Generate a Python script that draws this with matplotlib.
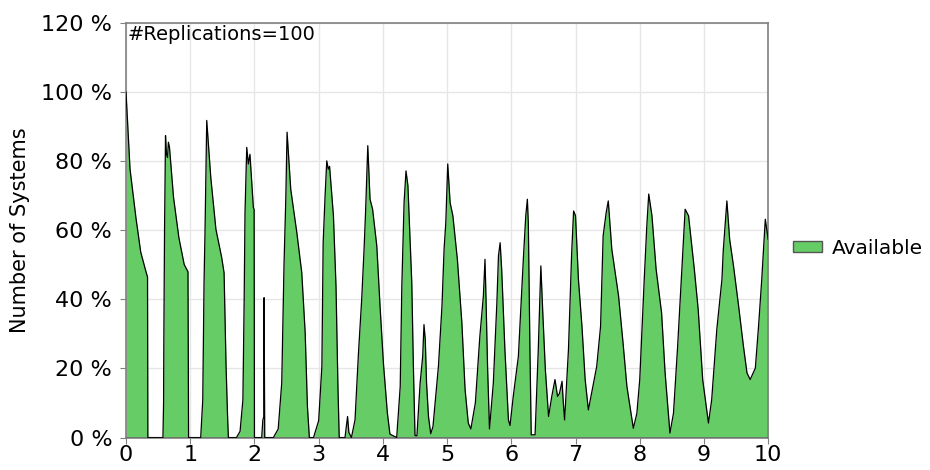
import matplotlib.pyplot as plt

plt.rcParams["font.family"] = ["DejaVu Sans"]

# simulated time vs. share of systems available
time = [
    0.0, 0.0625, 0.156, 0.229, 0.3125, 0.335, 0.34,
    0.575, 0.585, 0.589, 0.6, 0.615, 0.63, 0.646, 0.66, 0.677, 0.74,
    0.823, 0.906, 0.965, 0.974,
    1.163, 1.195, 1.215, 1.23, 1.257, 1.32, 1.40, 1.49, 1.527, 1.558,
    1.58, 1.594,
    1.72, 1.776, 1.82, 1.84, 1.853, 1.88, 1.905, 1.93, 1.983, 1.995, 2.0,
    2.113, 2.13, 2.145, 2.15, 2.16,
    2.295, 2.37, 2.425, 2.46, 2.488, 2.508, 2.565, 2.66, 2.737, 2.79,
    2.825, 2.855,
    2.92, 3.0, 3.05, 3.07, 3.10, 3.126, 3.15, 3.17, 3.23, 3.27, 3.3, 3.32,
    3.41, 3.45, 3.47, 3.51,
    3.566, 3.62, 3.67, 3.707, 3.73, 3.765, 3.80, 3.84, 3.905, 3.956,
    4.008, 4.07, 4.11, 4.215,
    4.27, 4.295, 4.33, 4.36, 4.39, 4.45, 4.475, 4.50,
    4.53, 4.58, 4.62, 4.64, 4.66, 4.68, 4.71, 4.745, 4.78,
    4.865, 4.92, 4.953, 4.98, 5.01, 5.047, 5.09, 5.16, 5.23, 5.28, 5.33,
    5.37,
    5.44, 5.51, 5.565, 5.59, 5.605, 5.63, 5.66,
    5.72, 5.775, 5.80, 5.826, 5.85, 5.90, 5.955, 5.98,
    6.03, 6.11, 6.19, 6.225, 6.25, 6.265, 6.29, 6.31, 6.37,
    6.42, 6.46, 6.49, 6.53, 6.58, 6.63, 6.68, 6.72, 6.75, 6.79, 6.81, 6.83,
    6.89, 6.94, 6.97, 7.0, 7.045, 7.10, 7.15, 7.20, 7.25,
    7.33, 7.39, 7.43, 7.477, 7.51, 7.565, 7.67, 7.74, 7.80, 7.84, 7.90,
    7.955,
    8.0, 8.07, 8.11, 8.14, 8.19, 8.255, 8.34, 8.395, 8.47,
    8.525, 8.59, 8.655, 8.707, 8.76, 8.85, 8.91, 8.98, 9.07,
    9.12, 9.2, 9.28, 9.30, 9.357, 9.40, 9.46, 9.54, 9.615, 9.67, 9.72,
    9.80, 9.85, 9.90, 9.955, 10.0,
]
available = [
    100, 77.7, 63.4, 53.7, 47.9, 46.5, 0,
    0, 10, 28.4, 60, 87.4, 82, 81.1, 85.5, 84, 69.5,
    57.9, 50.1, 48, 0,
    0, 10.9, 44.8, 59.3, 91.8, 75.3, 60.3, 52.1, 47.7, 20.6,
    7, 0,
    0, 1.8, 10.9, 40, 65.1, 84, 79.2, 82, 66.6, 66, 0,
    0, 5, 6, 40.5, 0,
    0, 2.5, 15.8, 49.7, 69, 88.4, 71.9, 59.3, 47.7, 30.3,
    9, 0,
    0, 4.9, 20.6, 56.4, 70, 80.1, 77.7, 78.5, 64.2, 43.8, 14.8, 0,
    0, 6.1, 1.5, 0,
    5.1, 24.5, 40, 54.5, 65.1, 84.5, 69, 66.1, 55.5, 38,
    21.6, 7.1, 1, 0,
    14.8, 43.8, 68, 77.2, 72.9, 44.8, 20.6, 0.6,
    0.5, 15.8, 23.5, 32.7, 28.4, 15.8, 6.1, 1.1, 3.2,
    20.6, 38, 54.5, 62.3, 79.2, 68, 64.2, 51.6, 33.2, 13.9, 4.2,
    2.5,
    10, 29.3, 41, 51.6, 41, 20.6, 2.5,
    15.8, 39, 52.6, 56.4, 48.7, 25.5, 5.1, 3.5,
    11.9, 23.5, 52.6, 64.2, 69, 62, 25.5, 0.8, 0.8,
    25.5, 49.7, 36.1, 19.7, 6.1, 11.9, 16.8, 11.9, 12.8, 16.3, 10, 5.1,
    25.5, 53.5, 65.6, 64.2, 45.8, 32.2, 16.8, 8, 12.9,
    20.6, 32.2, 58.4, 65.1, 68.5, 54.5, 41, 27.4, 14.8, 10, 2.7,
    7,
    16.8, 45.8, 61.3, 70.5, 64.2, 48.7, 36.1, 18.7, 1.3,
    7, 26.4, 48.7, 66.1, 64.2, 48.7, 37.1, 16.8, 4.2,
    10.9, 31.3, 45.8, 54, 68.5, 57.4, 49.7, 38, 26.4, 18.7, 16.8,
    20.1, 32.2, 45.8, 63.2, 57.4,
]

x_ticks = list(range(0, 11))
y_ticks = [0, 20, 40, 60, 80, 100, 120]
y_labels = ["0 %", "20 %", "40 %", "60 %", "80 %", "100 %", "120 %"]

fig = plt.figure(figsize=(9.3, 4.7), dpi=100)
ax = fig.add_axes([0.1355, 0.069, 0.6905, 0.882])

ax.fill_between(time, available, 0, color="#66cc66", linewidth=0,
                label="Available", zorder=2)
ax.plot(time, available, color="black", linewidth=0.9, zorder=3)
ax.axhline(0, color="#333333", linewidth=1.0, zorder=3)

ax.set_xlim(0, 10)
ax.set_ylim(0, 120)
ax.set_xticks(x_ticks)
ax.set_yticks(y_ticks)
ax.set_yticklabels(y_labels)
ax.tick_params(labelsize=16, color="#808080", length=4)
ax.tick_params(axis="y", pad=6)
ax.tick_params(axis="x", pad=1)
ax.grid(color="#e6e6e6", linewidth=1.0, zorder=0)
ax.set_axisbelow(True)
for side in ["left", "top", "right", "bottom"]:
    ax.spines[side].set_color("#808080")
    ax.spines[side].set_linewidth(1.2)

ax.set_ylabel("Number of Systems", fontsize=15, labelpad=8)
ax.text(0.003, 0.995, "#Replications=100", transform=ax.transAxes,
        fontsize=14, ha="left", va="top")

leg = ax.legend(loc="center left", bbox_to_anchor=(1.011, 0.457),
                frameon=False, fontsize=14.5, handlelength=1.4,
                handleheight=0.5, handletextpad=0.5)
for patch in leg.get_patches():
    patch.set_edgecolor("#555555")
    patch.set_linewidth(1.0)

fig.savefig("out.png", dpi=100)
